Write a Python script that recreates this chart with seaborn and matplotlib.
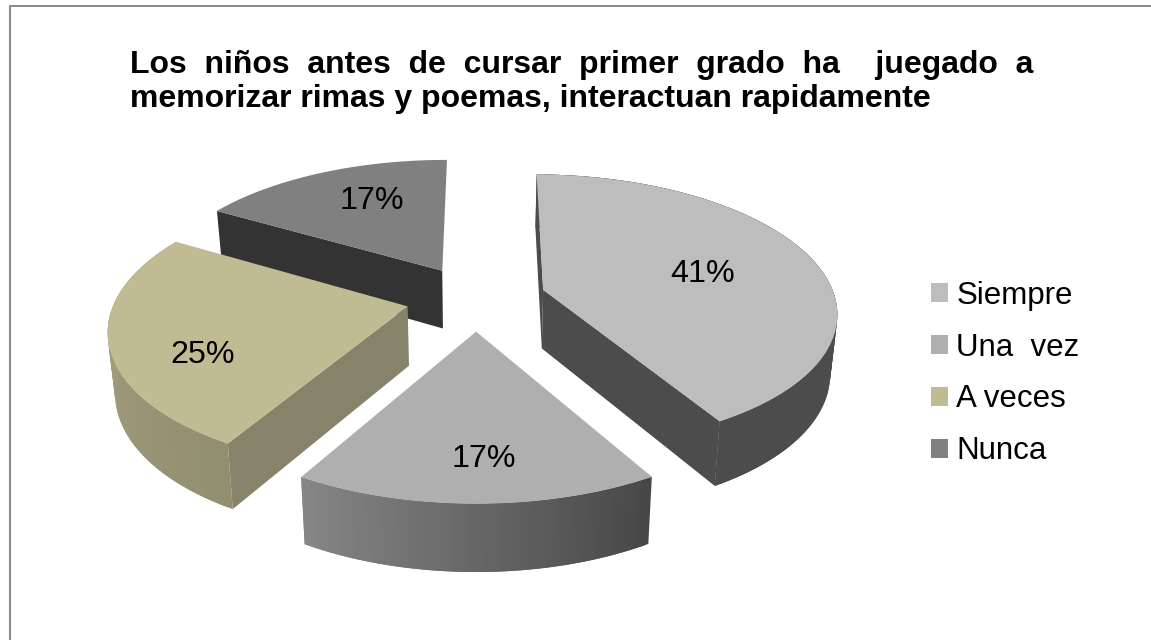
import numpy as np
import matplotlib
matplotlib.use('Agg')
import matplotlib.pyplot as plt
from matplotlib.patches import Patch, Polygon
import seaborn as sns

# datos del grafico
categorias = ['Siempre', 'Una  vez', 'A veces', 'Nunca']
porcentajes = [41.49, 16.7, 25.1, 16.6]
titulo_1 = 'Los  niños  antes  de  cursar  primer  grado  ha    juegado  a'
titulo_2 = 'memorizar rimas y poemas, interactuan rapidamente'

sns.set_theme(style="white")
plt.rcParams['font.family'] = ['Liberation Sans', 'DejaVu Sans']

# colores de cada porcion: cara superior, lateral (inicio y fin del arco), paredes
colores = sns.color_palette(['#BDBDBD', '#AFAFAF', '#C1BB93', '#808080'])
lateral = [('#4C4C4C', '#4C4C4C'), ('#474747', '#868686'),
           ('#928E70', '#A9A583'), None]
pared = ['#4C4C4C', None, '#87836A', '#333333']

# geometria de la torta en pixeles
cx, cy = 476, 298
rx, ry = 292, 135
k = 0.15          # perspectiva
sep = 0.24        # separacion de las porciones
alto = 59
inicio = 0.5
ang_etiqueta = [76, 178.3, 243.9, 335.6]
rad_etiqueta = [0.585, 0.755, 0.724, 0.687]


def proyectar(a, r, bis, abajo=False):
    u = r * np.sin(a) + sep * np.sin(bis)
    v = -r * np.cos(a) - sep * np.cos(bis)
    s = 1 / (1 - k * v)
    x, y = rx * u * s, ry * v * s
    if abajo:
        return cx + x * 0.98, cy + y * 0.98 + alto * s
    return cx + x, cy + y


def mezclar(c1, c2, t):
    c1 = np.array(matplotlib.colors.to_rgb(c1))
    c2 = np.array(matplotlib.colors.to_rgb(c2))
    return c1 + (c2 - c1) * t


fig = plt.figure(figsize=(11.51, 6.40), dpi=100)
ax = fig.add_axes([0, 0, 1, 1])
ax.set_xlim(0, 1151)
ax.set_ylim(640, 0)
ax.axis('off')

# marco: solo arriba y a la izquierda
ax.plot([10, 10, 1151], [640, 5.5, 5.5], color='#8C8C8C', lw=1.5)

limites = np.radians(inicio + np.cumsum([0] + porcentajes) * 3.6)
orden = [3, 2, 0, 1]   # de atras hacia adelante

for i in orden:
    a0, a1 = limites[i], limites[i + 1]
    bis = (a0 + a1) / 2
    arco = np.linspace(a0, a1, 90)

    # pared radial visible (las demas quedan tapadas)
    if pared[i] is not None:
        paredes = (a0, a1) if i == 0 else (a0,)
        for a in paredes:
            pts = [proyectar(a, 0, bis), proyectar(a, 1, bis),
                   proyectar(a, 1, bis, True), proyectar(a, 0, bis, True)]
            ax.add_patch(Polygon(pts, closed=True, fc=pared[i], ec='none'))

    # lateral curvo, con degradado (tiras solapadas para que no se noten las uniones)
    if lateral[i] is not None:
        for j in range(len(arco) - 1):
            t = j / (len(arco) - 2)
            col = mezclar(lateral[i][0], lateral[i][1], t)
            fin = arco[min(j + 2, len(arco) - 1)]
            pts = [proyectar(arco[j], 1, bis), proyectar(fin, 1, bis),
                   proyectar(fin, 1, bis, True), proyectar(arco[j], 1, bis, True)]
            ax.add_patch(Polygon(pts, closed=True, fc=col, ec='none'))

    # cara superior
    borde = [proyectar(0, 0, bis)] + [proyectar(a, 1, bis) for a in arco]
    ax.add_patch(Polygon(borde, closed=True, fc=colores[i], ec='none'))

    x, y = proyectar(np.radians(ang_etiqueta[i]), rad_etiqueta[i], bis)
    ax.text(x, y + 3, f'{porcentajes[i]:.0f}%', fontsize=23.2, color='black', ha='center', va='center')

# titulo
ax.text(130, 72.5, titulo_1, fontsize=23, fontweight='bold', color='black', ha='left', va='baseline')
ax.text(130, 107.5, titulo_2, fontsize=23, fontweight='bold', color='black', ha='left', va='baseline')

# leyenda
manijas = [Patch(facecolor=c, edgecolor='none') for c in colores]
ax.legend(manijas, categorias, loc='center left', bbox_to_anchor=(931, 373.5),
          bbox_transform=ax.transData, frameon=False, fontsize=22.5, borderpad=0,
          borderaxespad=0, handlelength=0.55, handleheight=0.55, handletextpad=0.26,
          labelspacing=0.70, labelcolor='black')

fig.savefig('out.png', dpi=100)
